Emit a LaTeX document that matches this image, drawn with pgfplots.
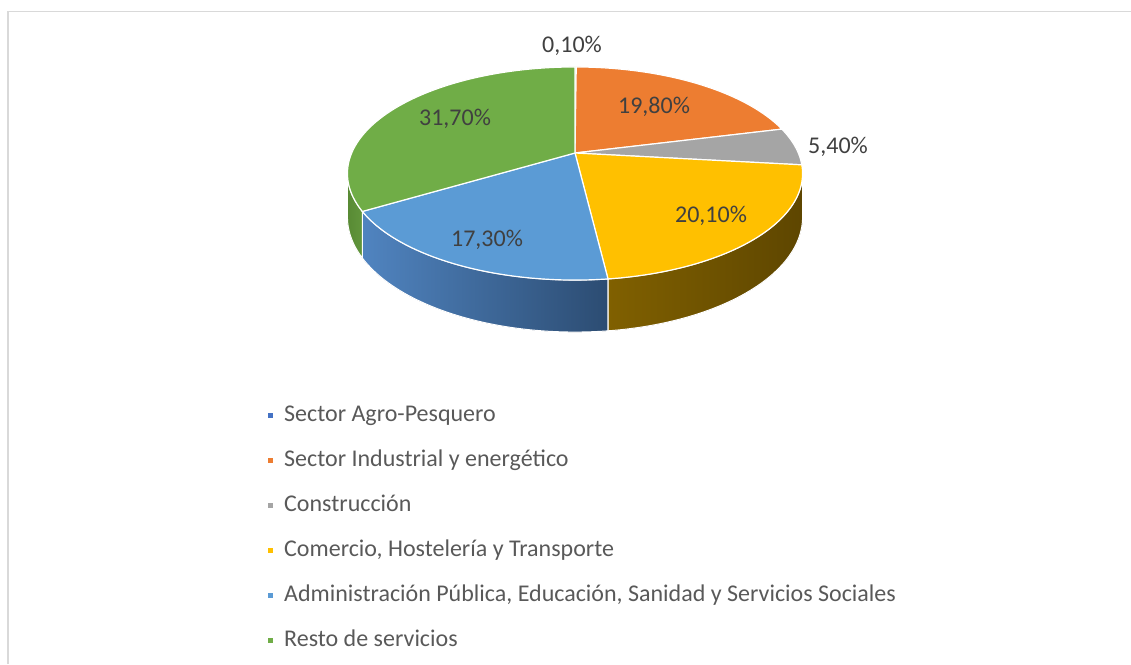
\documentclass[border=0pt]{standalone}
\usepackage{pgfplots}
\pgfplotsset{compat=1.18}
\usepackage{pgfplotstable}
\usepgfplotslibrary{fillbetween}
\usepackage{fontspec}
\setmainfont{Carlito}

\definecolor{cAgro}{HTML}{4472C4}
\definecolor{cInd}{HTML}{ED7D31}
\definecolor{cCons}{HTML}{A5A5A5}
\definecolor{cCom}{HTML}{FFC000}
\definecolor{cAdm}{HTML}{5B9BD5}
\definecolor{cRes}{HTML}{70AD47}
\definecolor{sComL}{RGB}{128,96,0}
\definecolor{sComR}{RGB}{94,70,0}
\definecolor{sAdmL}{RGB}{80,132,192}
\definecolor{sAdmR}{RGB}{44,76,114}
\definecolor{sResL}{RGB}{88,138,52}
\definecolor{sResR}{RGB}{98,150,60}
\definecolor{labelgray}{HTML}{404040}
\definecolor{legendgray}{HTML}{595959}
\definecolor{bordergray}{HTML}{D9D9D9}

\pgfplotstableread{
v
0.1
19.8
5.4
20.1
17.3
31.7
}\piedata

\begin{document}
\begin{tikzpicture}
\pgfplotstablegetelem{0}{v}\of\piedata \let\va\pgfplotsretval
\pgfplotstablegetelem{1}{v}\of\piedata \let\vb\pgfplotsretval
\pgfplotstablegetelem{2}{v}\of\piedata \let\vc\pgfplotsretval
\pgfplotstablegetelem{3}{v}\of\piedata \let\vd\pgfplotsretval
\pgfplotstablegetelem{4}{v}\of\piedata \let\ve\pgfplotsretval
\pgfplotstablegetelem{5}{v}\of\piedata \let\vf\pgfplotsretval
\pgfmathsetmacro\tot{\va+\vb+\vc+\vd+\ve+\vf}
\pgfmathsetmacro\aA{0}
\pgfmathsetmacro\aB{\aA+360*\va/\tot}
\pgfmathsetmacro\aC{\aB+360*\vb/\tot}
\pgfmathsetmacro\aD{\aC+360*\vc/\tot}
\pgfmathsetmacro\aE{\aD+360*\vd/\tot}
\pgfmathsetmacro\aF{\aE+360*\ve/\tot}
\pgfmathsetmacro\aG{360}
\pgfmathsetmacro\limbR{acos(-0.1925)}
\pgfmathsetmacro\limbL{360-\limbR}
\begin{axis}[
  at={(0,0)}, anchor=south west,
  scale only axis, width=1131pt, height=664pt,
  xmin=0, xmax=1131, ymin=0, ymax=664, y dir=reverse,
  hide axis, clip=false,
  declare function={
    pw(\t)=1+0.1925*cos(\t);
    px(\t)=575+223.3*sin(\t)/pw(\t);
    py(\t)=153-102.6*cos(\t)/pw(\t);
    pb(\t)=py(\t)+42/pw(\t);
  },
  legend style={at={(axis cs:267,404)}, anchor=north west, draw=none, fill=none,
    inner sep=0pt, outer sep=0pt,
    font=\fontsize{24}{29}\selectfont, text=legendgray,
    row sep=22pt,
    nodes={inner sep=0pt, text height=17pt, text depth=6pt},
    /tikz/every odd column/.append style={column sep=10pt}},
  legend cell align=left,
  legend image code/.code={\fill (0pt,-3pt) rectangle (6pt,3pt);},
]
% ---- sides (visible front part) ----
\addplot[draw=none, forget plot, name path=tCom, domain=\limbR:\aE, samples=60, variable=\t] ({px(\t)},{py(\t)});
\addplot[draw=none, forget plot, name path=bCom, domain=\limbR:\aE, samples=60, variable=\t] ({px(\t)},{pb(\t)});
\addplot[left color=sComL, right color=sComR, draw=white, line width=1pt, forget plot] fill between[of=tCom and bCom];
\addplot[draw=none, forget plot, name path=tAdm, domain=\aE:\aF, samples=60, variable=\t] ({px(\t)},{py(\t)});
\addplot[draw=none, forget plot, name path=bAdm, domain=\aE:\aF, samples=60, variable=\t] ({px(\t)},{pb(\t)});
\addplot[left color=sAdmL, right color=sAdmR, draw=white, line width=1pt, forget plot] fill between[of=tAdm and bAdm];
\addplot[draw=none, forget plot, name path=tRes, domain=\aF:\limbL, samples=30, variable=\t] ({px(\t)},{py(\t)});
\addplot[draw=none, forget plot, name path=bRes, domain=\aF:\limbL, samples=30, variable=\t] ({px(\t)},{pb(\t)});
\addplot[left color=sResL, right color=sResR, draw=white, line width=1pt, forget plot] fill between[of=tRes and bRes];
% ---- top faces ----
\addplot[fill=cAgro, draw=white, line width=1.2pt, domain=\aA:\aB, samples=5, variable=\t] ({px(\t)},{py(\t)}) -- (axis cs:575,153) -- cycle;
\addlegendentry{Sector Agro-Pesquero}
\addplot[fill=cInd, draw=white, line width=1.2pt, domain=\aB:\aC, samples=80, variable=\t] ({px(\t)},{py(\t)}) -- (axis cs:575,153) -- cycle;
\addlegendentry{Sector Industrial y energético}
\addplot[fill=cCons, draw=white, line width=1.2pt, domain=\aC:\aD, samples=30, variable=\t] ({px(\t)},{py(\t)}) -- (axis cs:575,153) -- cycle;
\addlegendentry{Construcción}
\addplot[fill=cCom, draw=white, line width=1.2pt, domain=\aD:\aE, samples=80, variable=\t] ({px(\t)},{py(\t)}) -- (axis cs:575,153) -- cycle;
\addlegendentry{Comercio, Hostelería y Transporte}
\addplot[fill=cAdm, draw=white, line width=1.2pt, domain=\aE:\aF, samples=80, variable=\t] ({px(\t)},{py(\t)}) -- (axis cs:575,153) -- cycle;
\addlegendentry{Administración Pública, Educación, Sanidad y Servicios Sociales}
\addplot[fill=cRes, draw=white, line width=1.2pt, domain=\aF:\aG, samples=120, variable=\t] ({px(\t)},{py(\t)}) -- (axis cs:575,153) -- cycle;
\addlegendentry{Resto de servicios}
% ---- data labels ----
\begin{scope}[every node/.style={font=\fontsize{24}{29}\selectfont, text=labelgray, inner sep=0pt}]
\node at (axis cs:572,46) {0,10\%};
\node at (axis cs:654,107) {19,80\%};
\node at (axis cs:838,147) {5,40\%};
\node at (axis cs:711,216) {20,10\%};
\node at (axis cs:487,240) {17,30\%};
\node at (axis cs:455,119) {31,70\%};
\end{scope}
% ---- chart area border ----
\draw[bordergray, line width=1.5pt] (axis cs:8,664) -- (axis cs:8,11.5) -- (axis cs:1131,11.5);
\end{axis}
\pgfresetboundingbox
\path (0,0) rectangle (1131pt,664pt);
\end{tikzpicture}
\end{document}
